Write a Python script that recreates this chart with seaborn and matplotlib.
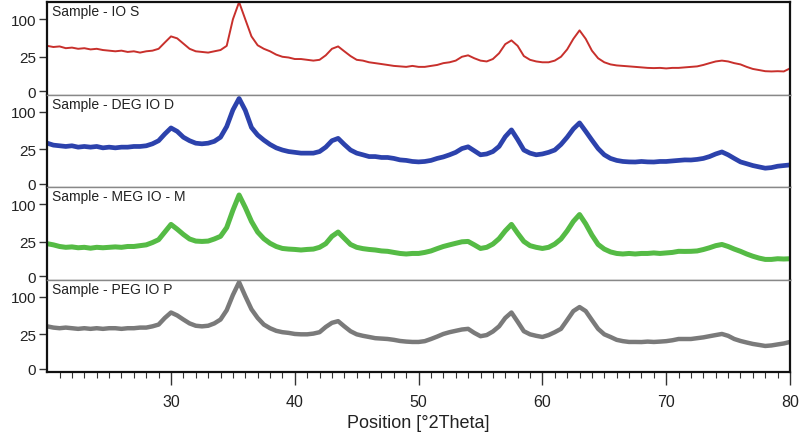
import matplotlib
matplotlib.use("Agg")
import matplotlib.pyplot as plt
import numpy as np
import pandas as pd
import seaborn as sns

# 2theta grid, 0.5 degree steps from 20 to 80
two_theta = np.arange(20.0, 80.01, 0.5)

# intensities (counts)
io_s = [42, 40, 41, 38, 39, 37, 38, 36, 37, 35, 34, 33, 34, 32, 33, 31, 33, 34, 37, 48,
        60, 56, 46, 37, 33, 32, 31, 33, 35, 42, 100, 150, 100, 60, 43, 37, 33, 28, 25, 24,
        22, 22, 21, 20, 21, 27, 37, 41, 33, 26, 21, 20, 18, 17, 16, 15, 14, 13.5, 13, 14,
        13, 13, 14, 15, 17, 18, 20, 25, 27, 23, 20, 19, 22, 30, 45, 52, 42, 26, 21, 19,
        18, 18, 20, 25, 36, 55, 73, 55, 34, 23, 18, 15.6, 14.5, 14, 13.5, 13, 12.5, 12, 11.8, 12,
        11.5, 12, 12, 12.5, 13, 13.5, 15, 17, 19, 20, 19, 17, 15.6, 13, 11, 10, 9, 8.8, 9, 8.8,
        11.5]
deg_io_d = [34, 31, 30, 29, 30, 28, 29, 28, 29, 27, 28, 27, 28, 28, 29, 29, 30, 33, 38, 50,
            62, 55, 44, 38, 34, 33, 34, 37, 44, 65, 105, 138, 104, 63, 48, 39, 32, 27, 24, 22,
            21, 20, 20, 20, 22, 28, 38, 42, 32, 24, 20, 18, 16, 16, 15, 15, 14, 12.5, 12, 11,
            10.6, 11, 12, 14, 15.6, 18, 21, 26, 28.5, 23, 18, 19, 22, 29, 45, 58, 40, 24, 20, 18,
            19, 21, 24, 32, 44, 60, 73, 55, 39, 26, 18, 14, 12, 11, 10.6, 10.5, 11, 10.6, 10.5, 11,
            11, 11.5, 12, 12.5, 12.4, 13, 14, 16, 19, 21.5, 18, 14, 10.6, 9, 7.5, 6.5, 5.6, 6, 7, 7.5,
            8]
meg_io_m = [22.5, 21, 19, 18, 18.5, 17.5, 18, 17, 18, 17.5, 18, 18.5, 18, 19, 19, 20, 21, 24, 28, 40,
            54, 45, 36, 29, 26, 25.5, 26, 29, 33, 48, 85, 126, 92, 60, 40, 29.4, 23, 19, 16.7, 16,
            15.6, 15, 15.6, 16, 18, 22.5, 33, 40, 30, 21.5, 18, 16.5, 15.6, 15, 14, 13.6, 12.5, 11.5, 11, 11.5,
            11.5, 12.5, 14, 16.5, 19, 21, 23, 25, 25.5, 21, 16.7, 18, 22, 29.4, 42, 54, 38, 25.5, 20, 18,
            16.7, 18, 22, 29, 42, 60, 75, 55, 35, 21.5, 16, 13, 11.5, 11, 11.5, 11, 11.5, 11.5, 12, 11.5,
            12, 12.5, 13.6, 13.5, 13.6, 14, 15.5, 17.5, 20, 21.5, 19, 16, 13.6, 11, 9, 7.5, 6.5, 6.5, 7, 6.8,
            7]
peg_io_p = [37, 35, 34, 35, 34, 33, 34, 33, 34, 33, 34, 34, 33, 34, 34, 35, 35, 37, 40, 52,
            63, 57, 49, 42, 38, 37, 38, 42, 49, 68, 105, 142, 102, 70, 52, 40, 34, 30, 28, 27,
            25.5, 25, 25, 26, 28, 36, 43, 46, 37, 29.4, 25, 23, 21.5, 20, 19.5, 19, 18, 16.7, 16, 15.6,
            15.6, 16.5, 19, 22, 25.5, 28, 30, 32, 33, 27, 22.5, 24, 29, 37, 52, 63, 45, 29.4, 25, 23,
            21.5, 24, 28, 33, 48, 66, 75, 66, 48, 33, 25, 21.5, 18, 16.5, 15.6, 15.6, 15.5, 16, 15.6, 16,
            16.5, 17.5, 19, 19, 19, 20, 21, 22.5, 24, 25.5, 23, 19, 16.7, 15, 13.5, 12.5, 11.5, 12, 13, 14,
            15.6]

sample_names = ["Sample - IO S", "Sample - DEG IO D", "Sample - MEG IO - M", "Sample - PEG IO P"]
colores = ["#c8302c", "#2c42ac", "#55bb45", "#7a7a7a"]
anchos = [1.4, 3.4, 3.6, 3.2]
series = [io_s, deg_io_d, meg_io_m, peg_io_p]

y_ticks = [0, 25, 100]
x_ticks = [30, 40, 50, 60, 70, 80]

sns.set_theme(style="white")
plt.rcParams['font.family'] = ['Liberation Sans', 'DejaVu Sans']


def fwd(v):
    v = np.asarray(v, dtype=float)
    return np.sign(v) * np.abs(v) ** 0.53


def inv(v):
    v = np.asarray(v, dtype=float)
    return np.sign(v) * np.abs(v) ** (1 / 0.53)


fig = plt.figure(figsize=(8, 4.39), dpi=100)
axes = fig.subplots(4, 1, sharex=True, gridspec_kw=dict(hspace=0))
fig.subplots_adjust(left=0.059, right=0.9875, top=0.993, bottom=0.150)

for i, ax in enumerate(axes):
    df = pd.DataFrame({"pos": two_theta, "counts": series[i]})
    sns.lineplot(data=df, x="pos", y="counts", ax=ax, color=colores[i], lw=anchos[i])
    ax.set_yscale('function', functions=(fwd, inv))
    ax.set_ylim(-0.3, 150)
    ax.set_yticks(y_ticks)
    ax.set_yticklabels([str(t) for t in y_ticks], fontsize=11, color="#222222")
    ax.tick_params(axis="y", direction="out", length=6, width=1, color="#333333", left=True, pad=2)
    ax.set_ylabel("")
    ax.text(0.006, 0.975, sample_names[i], transform=ax.transAxes, ha="left", va="top",
            fontsize=10, color="#222222")
    for side in ["left", "right"]:
        ax.spines[side].set_color("#111111")
        ax.spines[side].set_linewidth(1.6)
    ax.spines["top"].set_color("#888888" if i > 0 else "#111111")
    ax.spines["top"].set_linewidth(1.0 if i > 0 else 1.6)
    ax.spines["bottom"].set_color("#888888")
    ax.spines["bottom"].set_linewidth(1.0)

axes[-1].spines["bottom"].set_color("#111111")
axes[-1].spines["bottom"].set_linewidth(1.6)
axes[-1].set_xlim(20, 80)
axes[-1].set_xticks(x_ticks)
axes[-1].set_xticks(np.arange(21, 80, 1), minor=True)
axes[-1].set_xticklabels([str(t) for t in x_ticks], fontsize=11.5, color="#222222")
axes[-1].tick_params(axis="x", which="major", direction="out", length=9, width=1, color="#333333",
                     bottom=True, pad=7)
axes[-1].tick_params(axis="x", which="minor", direction="out", length=4, width=0.8, color="#333333",
                     bottom=True)
axes[-1].set_xlabel("Position [°2Theta]", fontsize=13, color="#222222", labelpad=3)

fig.savefig("out.png", dpi=100)
